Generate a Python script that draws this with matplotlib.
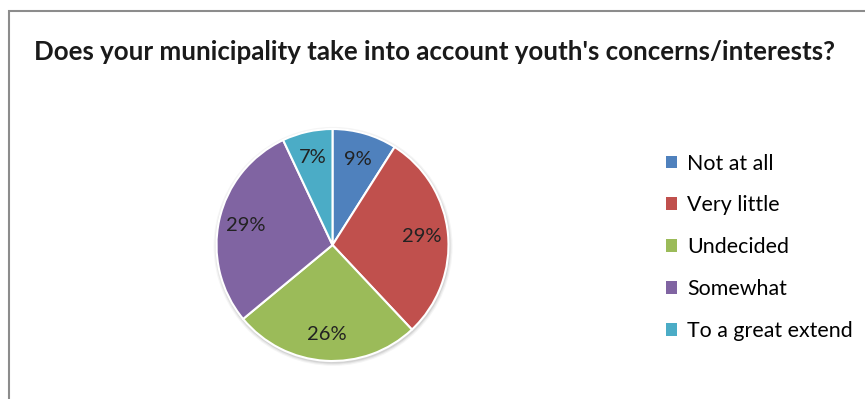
import matplotlib.pyplot as plt
from matplotlib.patches import Rectangle, Patch, Circle

# survey answers, share in percent
labels = ['Not at all', 'Very little', 'Undecided', 'Somewhat', 'To a great extend']
shares = [9, 29, 26, 29, 7]
colors = ['#4F81BD', '#C0504D', '#9BBB59', '#8064A2', '#4BACC6']
title = "Does your municipality take into account youth's concerns/interests?"

plt.rcParams['font.family'] = ['Lato', 'DejaVu Sans']

W, H = 865, 399
fig = plt.figure(figsize=(W / 100, H / 100), dpi=100)

# grey chart border, only left and top visible
fig.patches.append(Rectangle((8.5 / W, -0.1), 2, (H - 11.5) / H + 0.1,
                             transform=fig.transFigure, fill=False,
                             edgecolor='#8c8c8c', lw=1.5))

fig.text(434 / W, 1 - 52 / H, title, ha='center', va='center',
         fontsize=18.6, fontweight='bold', color='#1a1a1a')

cx, cy, r = 332.5, 245, 116
ax = fig.add_axes([(cx - r) / W, (H - cy - r) / H, 2 * r / W, 2 * r / H])
# soft shadow under the pie
for k, a in [(1.03, 0.08), (1.02, 0.12), (1.01, 0.18)]:
    ax.add_patch(Circle((0.005, -0.012), k, color='#808080', alpha=a, lw=0, zorder=0))
wedges, texts, autotexts = ax.pie(
    shares, colors=colors, startangle=90, counterclock=False,
    autopct=lambda p: '%d%%' % round(p), pctdistance=0.77,
    wedgeprops=dict(edgecolor='white', linewidth=1.5),
    textprops=dict(fontsize=14.5, color='#222222'))
ax.set_xlim(-1.05, 1.05)
ax.set_ylim(-1.05, 1.05)
ax.set_aspect('equal')
ax.set_position([(cx - 1.05 * r) / W, (H - cy - 1.05 * r) / H,
                 2.1 * r / W, 2.1 * r / H])

handles = [Patch(facecolor=c, edgecolor='none') for c in colors]
fig.legend(handles, labels, loc='upper left',
           bbox_to_anchor=(657 / W, 1 - 145 / H), frameon=False,
           fontsize=15.4, handlelength=0.55, handleheight=0.55,
           handletextpad=0.45, labelspacing=1.02, borderaxespad=0)

fig.savefig('out.png', dpi=100)
